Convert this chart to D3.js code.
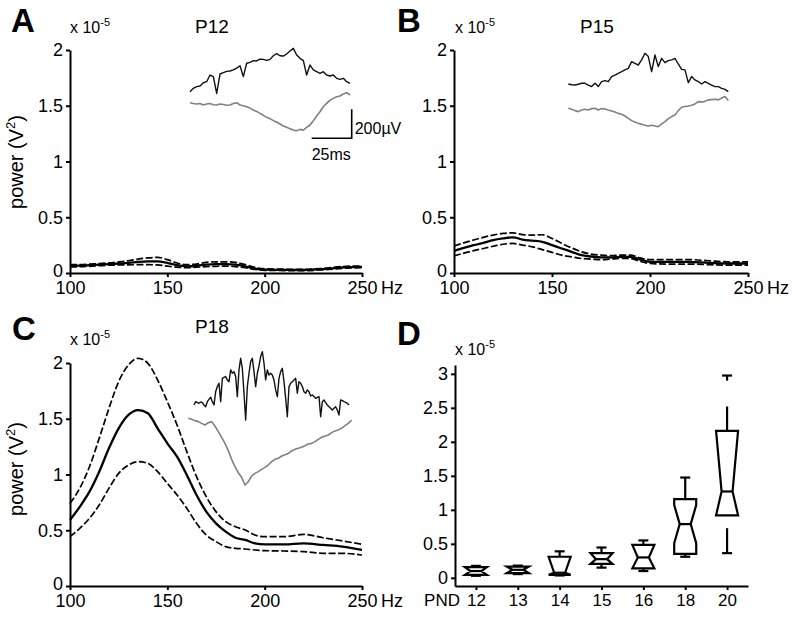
<!DOCTYPE html>
<html><head><meta charset="utf-8">
<script src="https://cdn.jsdelivr.net/npm/d3@7"></script>
<style>
body{margin:0;background:#fff}
svg{display:block}
text{font-family:"Liberation Sans",Arial,Helvetica,sans-serif;fill:#000}
</style>
</head><body>
<svg id="fig" width="793" height="619"></svg>
<script>
// ---------------- DATA ----------------
const freq = [100,105,110,115,120,125,130,135,140,145,150,155,160,165,170,175,180,185,190,195,200,210,220,230,240,250];
const xTicks = [100,150,200,250];
const yTicksPower = [0,0.5,1,1.5,2];

// power spectra (x 10^-5 V^2): mean and +/- SEM
const p12Mean  = [0.065,0.066,0.07,0.075,0.08,0.085,0.09,0.1,0.105,0.105,0.09,0.07,0.06,0.065,0.075,0.08,0.08,0.075,0.06,0.04,0.03,0.028,0.027,0.035,0.05,0.055];
const p12Upper = [0.075,0.076,0.08,0.085,0.09,0.1,0.11,0.125,0.135,0.14,0.12,0.09,0.075,0.08,0.095,0.1,0.1,0.095,0.075,0.05,0.038,0.034,0.033,0.042,0.058,0.063];
const p12Lower = [0.055,0.056,0.06,0.065,0.07,0.072,0.073,0.075,0.075,0.072,0.062,0.052,0.048,0.052,0.057,0.06,0.062,0.058,0.048,0.032,0.024,0.022,0.021,0.028,0.042,0.047];

const p15Mean  = [0.197,0.225,0.25,0.27,0.295,0.31,0.32,0.3,0.29,0.28,0.25,0.22,0.19,0.16,0.148,0.14,0.14,0.145,0.145,0.12,0.1,0.1,0.1,0.09,0.085,0.085];
const p15Upper = [0.242,0.27,0.296,0.32,0.34,0.355,0.36,0.345,0.34,0.343,0.31,0.266,0.225,0.19,0.17,0.16,0.155,0.16,0.16,0.135,0.12,0.12,0.12,0.11,0.1,0.1];
const p15Lower = [0.152,0.178,0.2,0.22,0.24,0.258,0.265,0.25,0.235,0.21,0.185,0.16,0.145,0.13,0.125,0.12,0.125,0.13,0.13,0.105,0.085,0.08,0.08,0.075,0.07,0.07];

const p18Mean  = [0.592,0.71,0.846,1.025,1.235,1.414,1.534,1.578,1.549,1.414,1.28,1.16,0.996,0.816,0.667,0.562,0.487,0.433,0.413,0.383,0.374,0.374,0.383,0.368,0.353,0.323];
const p18Upper = [0.741,0.876,1.07,1.324,1.593,1.833,1.982,2.042,1.997,1.848,1.653,1.444,1.205,0.981,0.801,0.667,0.577,0.532,0.502,0.457,0.442,0.442,0.463,0.433,0.404,0.374];
const p18Lower = [0.442,0.517,0.607,0.726,0.876,1.01,1.085,1.115,1.10,1.025,0.921,0.816,0.697,0.562,0.457,0.398,0.353,0.338,0.332,0.323,0.317,0.314,0.308,0.293,0.293,0.278];

// example traces (microvolts, relative to first sample)
const traceRateA = 480, traceRateCBlack = 960; // samples per second
const p12Filtered = [0,23,35,39,62,69,115,104,-12,122,131,140,143,150,163,179,104,196,202,214,212,225,223,216,223,248,262,248,246,260,281,299,253,230,214,115,184,150,138,127,138,115,108,115,92,85,92,69,58];
const p12Raw      = [0,-5,-9,-5,-16,-9,-5,-14,-16,-9,-12,-18,-16,-5,0,-16,-21,-28,-37,-51,-60,-74,-87,-101,-110,-124,-133,-147,-161,-170,-179,-189,-193,-184,-189,-170,-154,-124,-92,-62,-28,-5,18,30,41,46,60,69,53];
const p15Filtered = [0,-5,-7,-2,5,5,-7,-18,5,-18,16,23,16,51,62,74,85,97,108,154,143,131,166,212,189,85,200,120,177,147,161,166,177,138,101,97,9,51,28,16,0,16,5,-7,-18,-18,-30,-37,-53];
const p15Raw      = [0,-7,-16,-23,-12,-7,-12,-2,0,-12,-2,-5,-12,-18,-25,-35,-41,-53,-69,-85,-94,-104,-110,-117,-122,-117,-122,-127,-108,-92,-71,-57,-46,-16,7,12,16,21,30,46,44,48,58,60,62,58,71,81,53];
const p18Filtered = [0,23,16,12,21,16,0,-12,23,39,53,23,0,92,127,150,23,184,191,196,173,161,242,219,230,196,58,242,322,253,81,-104,127,219,299,322,230,127,219,269,334,368,288,173,242,207,219,207,173,104,58,184,230,253,161,46,-81,127,150,161,173,184,81,161,150,127,92,81,104,92,62,69,58,46,53,58,-81,23,35,16,0,-12,-23,-35,-23,-12,-35,-69,35,30,23,18,12,0];
const p18Raw      = [0,-7,-16,-23,-35,-46,-30,-23,-53,-92,-131,-173,-223,-283,-334,-375,-407,-460,-437,-398,-380,-368,-352,-338,-322,-299,-283,-276,-260,-251,-242,-225,-214,-207,-200,-189,-177,-173,-161,-145,-131,-122,-115,-99,-87,-80,-69,-51,-35,-12];

// panel D: box plots (x 10^-5 V^2)
const pnd       = ["12","13","14","15","16","18","20"];
const boxQ1     = [0.044,0.07,0.044,0.206,0.14,0.353,0.92];
const boxMedian = [0.10,0.118,0.075,0.275,0.30,0.79,1.27];
const boxQ3     = [0.157,0.166,0.31,0.363,0.485,1.157,2.16];
const notchLo   = [0.044,0.07,0.044,0.206,0.14,0.51,0.92];
const notchHi   = [0.157,0.166,0.31,0.363,0.485,1.07,2.16];
const whiskerLo = [0.03,0.055,0.035,0.15,0.10,0.31,0.363];
const whiskerHi = [0.176,0.18,0.39,0.446,0.55,1.475,2.975];
const whiskerHiGap = [null,null,null,null,null,null,[2.52,2.90]];
const whiskerLoGap = [null,null,null,null,null,null,[0.73,0.92]];
const yTicksD = [0,0.5,1,1.5,2,2.5,3];

// ---------------- DRAWING ----------------
const svg = d3.select("#fig");
const FONT = 18;

function sciLabel(x, y) {
  const t = svg.append("text").attr("x", x).attr("y", y).attr("font-size", 16);
  t.append("tspan").text("x 10");
  t.append("tspan").attr("font-size", 11).attr("dy", -7).text("-5");
}
function panelLetter(txt, x, y) {
  svg.append("text").attr("x", x).attr("y", y).attr("font-size", 33)
     .attr("font-weight", "bold").text(txt);
}
function styleAxis(g) {
  g.selectAll("path.domain").attr("stroke", "#000").attr("stroke-width", 2);
  g.selectAll(".tick line").attr("stroke", "#000").attr("stroke-width", 2);
  g.selectAll(".tick text").attr("font-size", FONT).attr("font-family", '"Liberation Sans",Arial,sans-serif').attr("fill", "#000");
}

function spectrumPanel(opt) {
  const x = d3.scaleLinear().domain([100, 250]).range(opt.xr);
  const y = d3.scaleLinear().domain([0, 2]).range(opt.yr);
  const gx = svg.append("g").attr("transform", `translate(0,${y(0)})`)
    .call(d3.axisBottom(x).tickValues(xTicks).tickSize(4).tickSizeOuter(0).tickPadding(4).tickFormat(d3.format("d")));
  styleAxis(gx);
  svg.append("text").attr("x", x(250) + 19).attr("y", y(0) + 21).attr("font-size", FONT).text("Hz");
  const gy = svg.append("g").attr("transform", `translate(${x(100)},0)`)
    .call(d3.axisLeft(y).tickValues(yTicksPower).tickSize(4).tickSizeOuter(0).tickPadding(3).tickFormat(d => d));
  styleAxis(gy);
  gy.selectAll(".tick text").filter(d => d === 0).attr("dy", "0.2em");
  const line = d3.line().x((d, i) => x(freq[i])).y(d => y(d)).curve(d3.curveMonotoneX);
  [[opt.upper, true], [opt.lower, true], [opt.mean, false]].forEach(([arr, dashed]) => {
    svg.append("path").attr("d", line(arr)).attr("fill", "none").attr("stroke", "#000")
      .attr("stroke-width", dashed ? 1.7 : 2.3)
      .attr("stroke-dasharray", dashed ? "7,2.5" : null);
  });
  if (opt.ylabel) {
    const t = svg.append("text").attr("transform", `translate(${opt.ylabelX},${opt.ylabelY}) rotate(-90)`)
      .attr("text-anchor", "middle").attr("font-size", 20);
    t.append("tspan").text("power (V");
    t.append("tspan").attr("font-size", 13).attr("dy", -8).text("2");
    t.append("tspan").attr("dy", 8).text(")");
  }
  return {x, y};
}

function trace(values, rate, x0, y0, color, width) {
  const n = values.length;
  const durMs = (n - 1) * 1000 / rate;
  const tx = d3.scaleLinear().domain([0, durMs]).range([x0, x0 + durMs * 1.6]);
  const vy = d3.scaleLinear().domain([0, 200]).range([y0, y0 - 29]);
  const line = d3.line().x((d, i) => tx(i * 1000 / rate)).y(d => vy(d));
  svg.append("path").attr("d", line(values)).attr("fill", "none")
    .attr("stroke", color).attr("stroke-width", width).attr("stroke-linejoin", "round");
}

// Panel A
panelLetter("A", 11, 32);
sciLabel(70, 33);
svg.append("text").attr("x", 195).attr("y", 33).attr("font-size", 19).text("P12");
spectrumPanel({xr: [70, 362], yr: [273, 50], mean: p12Mean, upper: p12Upper, lower: p12Lower,
  ylabel: true, ylabelX: 23, ylabelY: 162});
trace(p12Filtered, traceRateA, 190, 91.7, "#111", 1.4);
trace(p12Raw, traceRateA, 190, 102.7, "#808080", 1.6);
// scale bar (200 µV, 25 ms)
{
  const bx = 351.7, by = 138.3;
  const ms = d3.scaleLinear().domain([0, 25]).range([bx - 40, bx]);
  const uv = d3.scaleLinear().domain([0, 200]).range([by, by - 29]);
  svg.append("path").attr("d", `M${ms(0)},${uv(0)}H${ms(25)}V${uv(200)}`)
     .attr("fill", "none").attr("stroke", "#000").attr("stroke-width", 1.6);
  svg.append("text").attr("x", bx + 3).attr("y", 133.5).attr("font-size", 16).text("200µV");
  svg.append("text").attr("x", ms(0)).attr("y", 159.5).attr("font-size", 16).text("25ms");
}

// Panel B
panelLetter("B", 397, 32);
sciLabel(455, 33);
svg.append("text").attr("x", 580).attr("y", 33).attr("font-size", 19).text("P15");
spectrumPanel({xr: [454, 748], yr: [273, 50], mean: p15Mean, upper: p15Upper, lower: p15Lower, ylabel: false});
trace(p15Filtered, traceRateA, 568.3, 84, "#111", 1.4);
trace(p15Raw, traceRateA, 568.3, 108.3, "#808080", 1.6);

// Panel C
panelLetter("C", 12, 340);
sciLabel(70, 345);
svg.append("text").attr("x", 195).attr("y", 333).attr("font-size", 19).text("P18");
spectrumPanel({xr: [70, 362], yr: [586, 363], mean: p18Mean, upper: p18Upper, lower: p18Lower,
  ylabel: true, ylabelX: 23, ylabelY: 469});
trace(p18Filtered, traceRateCBlack, 194, 405, "#111", 1.4);
trace(p18Raw, traceRateA, 188.3, 418.3, "#808080", 1.6);

// Panel D
panelLetter("D", 397, 345);
sciLabel(455, 355);
{
  const x = d3.scalePoint().domain(pnd).range([455, 748]).padding(0.5);
  const y = d3.scaleLinear().domain([-0.12, 3.13]).range([586, 365]);
  const gx = svg.append("g").attr("transform", `translate(0,586)`)
    .call(d3.axisBottom(x).tickSize(4).tickSizeOuter(0).tickPadding(4));
  styleAxis(gx);
  gx.selectAll(".tick text").attr("font-size", 17);
  svg.append("text").attr("x", 460).attr("y", 606).attr("text-anchor", "end").attr("font-size", 17).text("PND");
  const gy = svg.append("g").attr("transform", `translate(455,0)`)
    .call(d3.axisLeft(y).tickValues(yTicksD).tickSize(4).tickSizeOuter(0).tickPadding(3).tickFormat(d => d));
  styleAxis(gy);

  const bw = 22, ind = 5.5, cap = 5;
  const g = svg.append("g").attr("stroke", "#000").attr("stroke-width", 2.2).attr("fill", "none");
  pnd.forEach((c, i) => {
    const cx = x(c), l = cx - bw / 2, r = cx + bw / 2;
    const segHi = whiskerHiGap[i] ? [[boxQ3[i], whiskerHiGap[i][0]], [whiskerHiGap[i][1], whiskerHi[i]]] : [[boxQ3[i], whiskerHi[i]]];
    const segLo = whiskerLoGap[i] ? [[whiskerLoGap[i][0], whiskerLo[i]]] : [[boxQ1[i], whiskerLo[i]]];
    segHi.concat(segLo).forEach(([a, b]) => {
      g.append("line").attr("x1", cx).attr("x2", cx).attr("y1", y(a)).attr("y2", y(b));
    });
    g.append("line").attr("x1", cx - cap).attr("x2", cx + cap).attr("y1", y(whiskerHi[i])).attr("y2", y(whiskerHi[i]));
    g.append("line").attr("x1", cx - cap).attr("x2", cx + cap).attr("y1", y(whiskerLo[i])).attr("y2", y(whiskerLo[i]));
    const pts = [
      [l, y(boxQ3[i])], [r, y(boxQ3[i])], [r, y(notchHi[i])], [r - ind, y(boxMedian[i])],
      [r, y(notchLo[i])], [r, y(boxQ1[i])], [l, y(boxQ1[i])], [l, y(notchLo[i])],
      [l + ind, y(boxMedian[i])], [l, y(notchHi[i])]
    ];
    g.append("polygon").attr("points", pts.map(p => p.join(",")).join(" ")).attr("fill", "#fff").attr("stroke-linejoin", "miter");
    g.append("line").attr("x1", l + ind).attr("x2", r - ind).attr("y1", y(boxMedian[i])).attr("y2", y(boxMedian[i]));
  });
}
</script>
</body></html>
